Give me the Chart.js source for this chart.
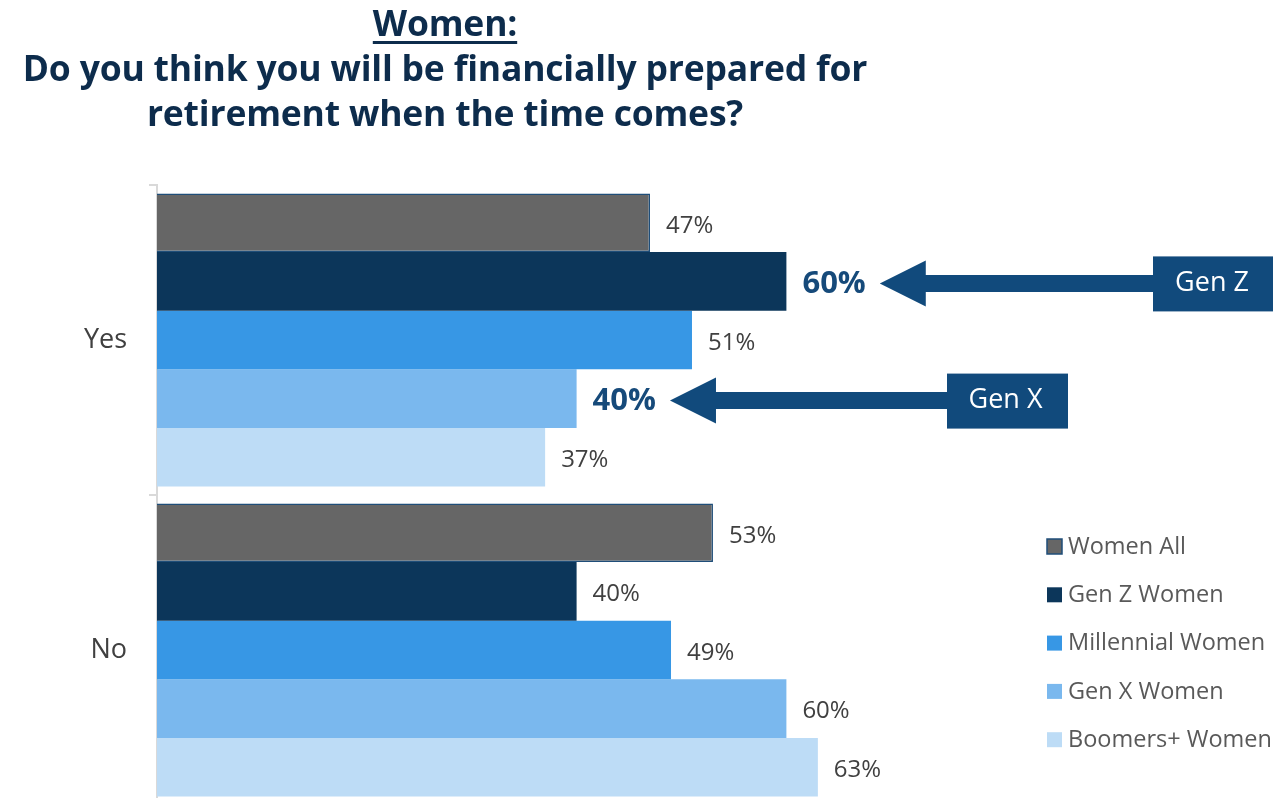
<!DOCTYPE html>
<html lang="en">
<head>
<meta charset="UTF-8">
<title>Women: financially prepared for retirement?</title>
<script src="https://cdn.jsdelivr.net/npm/chart.js@4.4.0/dist/chart.umd.min.js"></script>
<style>
  body { margin: 0; overflow: hidden; background: #fff; }
  #wrap { position: relative; width: 1273px; height: 850px; }
  #chart { position: absolute; left: 0; top: 0; width: 1273px; height: 850px; }
  .title {
    position: absolute; left: 0; top: 0; width: 890px;
    text-align: center; color: #0d2c4c;
    font-family: "Open Sans", sans-serif; font-weight: 700;
    font-size: 35.5px; line-height: 45px; letter-spacing: -0.2px;
  }
  .title u { text-decoration-thickness: 3px; text-underline-offset: 5px; }
</style>
</head>
<body>
<div id="wrap">
  <canvas id="chart" width="1273" height="850"></canvas>
  <div class="title"><u>Women:</u><br>Do you think you will be financially prepared for<br>retirement when the time comes?</div>
</div>

<script>
// answers and generations
var categories = ["Yes", "No"];
var seriesNames = ["Women All", "Gen Z Women", "Millennial Women", "Gen X Women", "Boomers+ Women"];
var womenAll   = [47, 53];
var genZ       = [60, 40];
var millennial = [51, 49];
var genX       = [40, 60];
var boomers    = [37, 63];
var colors = ["#666666", "#0c365a", "#3797e5", "#7ab8ee", "#bddcf6"];

// highlighted values with a pointing arrow and tag box
var callouts = [
  { series: 1, cat: 0, tag: "Gen Z", boxX: 1153, boxW: 122 },
  { series: 3, cat: 0, tag: "Gen X", boxX: 947, boxW: 121 }
];

var navy = "#114a7c";

function drawCallout(ctx, tipX, y, c) {
  var headLen = 46, headHalf = 23, shaftHalf = 8.5;
  ctx.fillStyle = navy;
  ctx.beginPath();
  ctx.moveTo(tipX, y);
  ctx.lineTo(tipX + headLen, y - headHalf);
  ctx.lineTo(tipX + headLen, y - shaftHalf);
  ctx.lineTo(c.boxX, y - shaftHalf);
  ctx.lineTo(c.boxX, y + shaftHalf);
  ctx.lineTo(tipX + headLen, y + shaftHalf);
  ctx.lineTo(tipX + headLen, y + headHalf);
  ctx.closePath();
  ctx.fill();
  ctx.fillRect(c.boxX, y - 27, c.boxW, 55);
  ctx.fillStyle = "#ffffff";
  ctx.font = '27px "Open Sans"';
  ctx.textAlign = "center";
  ctx.textBaseline = "middle";
  ctx.fillText(c.tag, c.boxX + c.boxW / 2 - 2, y);
}

var barLabels = {
  id: "barLabels",
  afterDatasetsDraw: function (chart) {
    var ctx = chart.ctx;
    ctx.save();
    chart.data.datasets.forEach(function (ds, di) {
      var meta = chart.getDatasetMeta(di);
      meta.data.forEach(function (bar, i) {
        var hl = callouts.find(function (c) { return c.series === di && c.cat === i; });
        var txt = ds.data[i] + "%";
        ctx.font = hl ? '700 31px "Open Sans"' : '24px "Open Sans"';
        ctx.fillStyle = hl ? "#164a7a" : "#404040";
        ctx.textAlign = "left";
        ctx.textBaseline = "middle";
        var x = bar.x + 16;
        ctx.fillText(txt, x, bar.y + 3);
        if (hl) {
          drawCallout(ctx, x + ctx.measureText(txt).width + 14, bar.y + 2, hl);
        }
      });
    });
    ctx.restore();
  }
};

// legend box in the lower right
var sideLegend = {
  id: "sideLegend",
  afterDraw: function (chart) {
    var ctx = chart.ctx;
    ctx.save();
    ctx.font = '23.5px "Open Sans"';
    ctx.textAlign = "left";
    ctx.textBaseline = "middle";
    chart.data.datasets.forEach(function (ds, i) {
      var y = 547 + i * 48.3;
      ctx.fillStyle = ds.backgroundColor;
      ctx.fillRect(1047, y - 8, 15, 15);
      if (i === 0) {
        ctx.strokeStyle = "#1f4e79";
        ctx.lineWidth = 1.5;
        ctx.strokeRect(1047, y - 8, 15, 15);
      }
      ctx.fillStyle = "#595959";
      ctx.fillText(ds.label, 1068, y);
    });
    ctx.restore();
  }
};

var seriesData = [womenAll, genZ, millennial, genX, boomers];

new Chart(document.getElementById("chart"), {
  type: "bar",
  data: {
    labels: categories,
    datasets: seriesNames.map(function (name, i) {
      return {
        label: name,
        data: seriesData[i],
        backgroundColor: colors[i],
        borderColor: i === 0 ? "#1f4e79" : colors[i],
        borderWidth: i === 0 ? 1.5 : 0,
        barPercentage: 1,
        categoryPercentage: 0.945
      };
    })
  },
  options: {
    indexAxis: "y",
    responsive: false,
    maintainAspectRatio: false,
    animation: false,
    layout: { padding: { top: 185, bottom: 45, left: 0, right: 67 } },
    plugins: { legend: { display: false }, title: { display: false }, tooltip: { enabled: false } },
    scales: {
      x: { display: false, min: 0, max: 100 },
      y: {
        afterFit: function (s) { s.width = 157; },
        grid: { offset: true, drawOnChartArea: false, tickLength: 8, color: "#d9d9d9", lineWidth: 2 },
        border: { display: true, color: "#d9d9d9", width: 2 },
        ticks: { color: "#404040", padding: 22, font: { size: 27, family: "Open Sans" } }
      }
    }
  },
  plugins: [barLabels, sideLegend]
});
</script>
</body>
</html>
